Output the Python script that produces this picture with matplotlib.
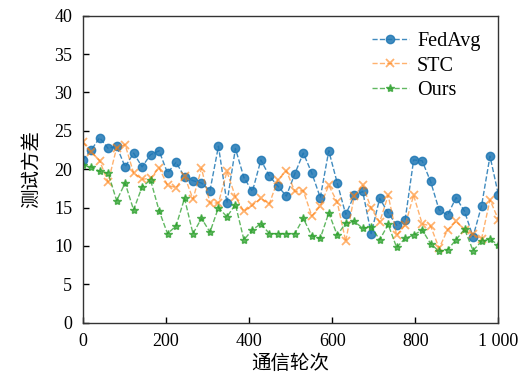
import numpy as np
import matplotlib
matplotlib.use("Agg")
import matplotlib.pyplot as plt
import matplotlib.ticker as ticker

# --- data (50 evaluation points over 1000 rounds) ---
rounds = np.linspace(0, 1000, 50)

fedavg = [21.2, 22.5, 24.1, 22.7, 23.0, 20.3, 22.1, 20.3, 21.9, 22.4,
          19.5, 20.9, 19.0, 18.5, 18.2, 17.2, 23.0, 15.6, 22.7, 18.9,
          17.1, 21.2, 19.1, 17.8, 16.5, 19.4, 22.1, 19.5, 16.3, 22.4,
          18.2, 14.1, 16.6, 17.1, 11.6, 16.2, 14.3, 12.7, 13.4, 21.2,
          21.1, 18.4, 14.7, 14.0, 16.3, 14.5, 11.2, 15.2, 21.7, 16.6]

stc = [23.5, 22.3, 21.1, 18.3, 22.8, 23.2, 19.5, 18.7, 18.8, 20.2,
       17.9, 17.6, 19.1, 16.1, 20.1, 15.6, 15.6, 19.7, 16.4, 14.5,
       15.3, 16.2, 15.5, 18.6, 19.8, 17.1, 17.2, 13.9, 15.2, 17.9,
       15.7, 10.6, 16.5, 17.9, 14.9, 13.1, 16.6, 11.4, 12.7, 16.6,
       12.9, 12.6, 9.7, 12.1, 13.2, 12.1, 11.5, 10.9, 16.0, 13.4]

ours = [20.5, 20.3, 19.7, 19.5, 15.9, 18.2, 14.7, 17.7, 18.6, 14.6,
        11.6, 12.6, 16.2, 11.6, 13.6, 11.8, 15.0, 13.8, 15.4, 10.8,
        12.1, 12.9, 11.6, 11.6, 11.6, 11.6, 13.6, 11.3, 11.0, 14.3,
        11.4, 13.0, 13.2, 12.3, 12.5, 10.8, 12.8, 9.8, 11.0, 11.4,
        12.1, 10.3, 9.3, 9.5, 10.8, 12.2, 9.4, 10.6, 10.9, 10.1]

y_ticks = [0, 5, 10, 15, 20, 25, 30, 35, 40]
x_ticks = [0, 200, 400, 600, 800, 1000]

plt.rcParams["font.family"] = ["Liberation Serif", "Noto Sans CJK SC"]
plt.rcParams["font.size"] = 13

# --- Style ---
fedavg_style = {"color": "#1f77b4", "marker": "o", "ls": "--", "lw": 1.0, "ms": 6, "alpha": 0.85}
stc_style    = {"color": "#ff7f0e", "marker": "x", "ls": "--", "lw": 1.0, "ms": 6, "alpha": 0.6, "mew": 1.3}
ours_style   = {"color": "#2ca02c", "marker": "*", "ls": "--", "lw": 1.0, "ms": 6, "alpha": 0.75}

fig = plt.figure(figsize=(5.28, 3.74), dpi=100)
ax = fig.add_axes([0.1566, 0.1372, 0.7875, 0.8208])

ax.plot(rounds, fedavg, label="FedAvg", **fedavg_style)
ax.plot(rounds, stc,    label="STC",    **stc_style)
ax.plot(rounds, ours,   label="Ours",   **ours_style)

ax.set_xlim(0, 1000)
ax.set_ylim(0, 40)
ax.set_xticks(x_ticks)
ax.set_yticks(y_ticks)
ax.xaxis.set_major_formatter(ticker.FuncFormatter(
    lambda x, _: f"{x:,.0f}".replace(",", " ")))
ax.tick_params(direction="in", length=4, width=1, labelsize=13, pad=7.5)
for s in ax.spines.values():
    s.set_linewidth(1.0)
    s.set_color("#333333")

ax.set_xlabel("通信轮次", fontfamily="Noto Sans CJK SC", fontsize=14, labelpad=2)
ax.set_ylabel("测试方差", fontfamily="Noto Sans CJK SC", fontsize=14, labelpad=9)

ax.legend(loc="upper right", bbox_to_anchor=(1.0, 1.005), frameon=False,
          fontsize=14.5, handlelength=1.85, labelspacing=0.25, handletextpad=0.4)

fig.savefig("out.png", dpi=100)
plt.close(fig)
